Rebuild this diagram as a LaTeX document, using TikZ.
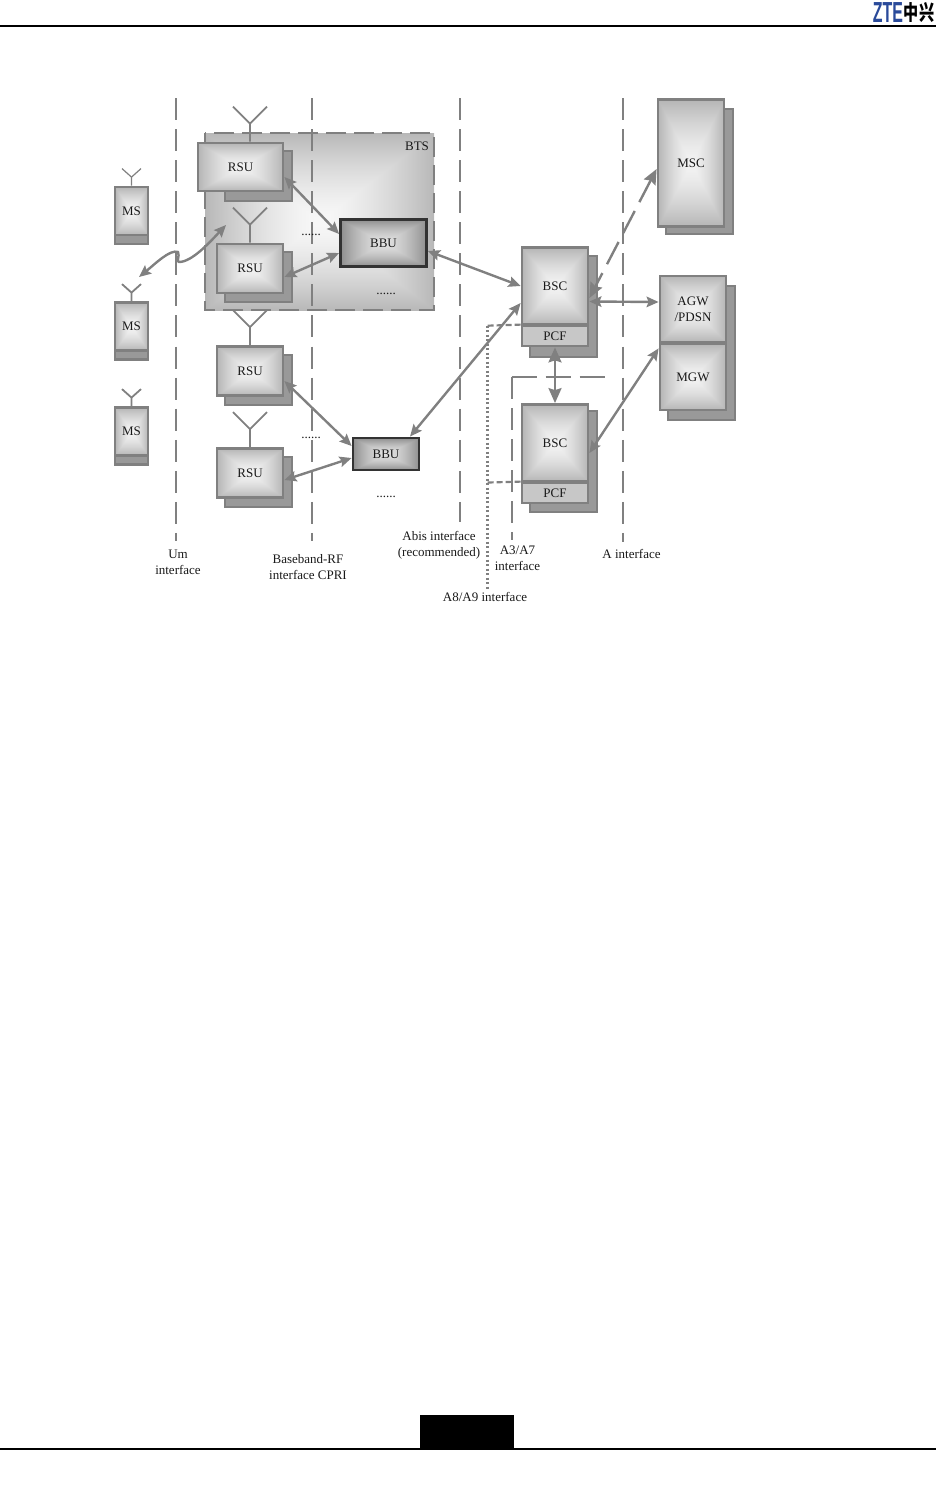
\documentclass[tikz,border=0pt]{standalone}
\usepackage{fontspec}
\setmainfont{Liberation Serif}
\newfontfamily\logofont{Liberation Sans}
\newfontfamily\cjklogo{Noto Sans CJK SC}
\usetikzlibrary{arrows.meta}
\definecolor{linegray}{HTML}{808080}
\definecolor{backgray}{HTML}{999999}
\definecolor{logoblue}{HTML}{2A4A9A}
% light centre, darker rim, mitred like a picture frame
\newcommand{\declareframeshade}[3]{%
  \pgfdeclarefunctionalshading{#1}{\pgfpoint{-50bp}{-50bp}}{\pgfpoint{50bp}{50bp}}{}{%
    abs exch abs 2 copy gt {pop} {exch pop} ifelse 25 div dup sqrt mul #3 mul #2 exch sub dup dup}}
\declareframeshade{rsushade}{0.95}{0.24}
\declareframeshade{bbushade}{0.88}{0.32}
\declareframeshade{btsshade}{0.97}{0.25}
\begin{document}
\begin{tikzpicture}[
    x=1pt, y=-1pt,
    every node/.style={font=\fontsize{13}{16}\selectfont, text=black!90, align=center, inner sep=0pt},
    backbox/.style={draw=linegray, line width=2pt, fill=backgray},
    unitbox/.style={draw=linegray, line width=2.8pt, shading=rsushade},
    bandbox/.style={draw=black!80, line width=2.8pt, shading=bbushade},
    footbox/.style={draw=linegray, line width=2.8pt, fill=backgray},
    pcfbox/.style={draw=linegray, line width=2.8pt, fill=black!22},
    ifline/.style={draw=linegray, line width=2pt, dash pattern=on 22pt off 9.07pt},
    dotline/.style={draw=linegray, line width=2.6pt, dash pattern=on 2pt off 2.5pt},
    shortdash/.style={draw=linegray, line width=2.2pt, dash pattern=on 6pt off 3pt},
    aerial/.style={draw=linegray, line width=1.8pt},
    link/.style={draw=linegray, line width=2.4pt, {Stealth[length=12pt,width=10.5pt,inset=2pt]}-{Stealth[length=12pt,width=10.5pt,inset=2pt]}},
    biglink/.style={link, {Stealth[length=15pt,width=13pt,inset=2pt]}-{Stealth[length=15pt,width=13pt,inset=2pt]}}
]
\useasboundingbox (0,0) rectangle (936,1499);
% Page furniture
\draw[black, line width=2pt] (0,26) -- (936,26);
\draw[black, line width=2pt] (0,1449) -- (936,1449);
\fill[black] (420,1415) rectangle (514,1449);
\node[font=\logofont\bfseries\fontsize{29}{29}\selectfont, text=logoblue, xscale=0.55] (logoa) at (888,12.5) {ZTE};
\node[font=\cjklogo\bfseries\fontsize{21}{21}\selectfont, text=black, xscale=0.72] (logob) at (919,12.5) {中兴};

% BTS frame
\node[minimum width=229pt, minimum height=177pt, shading=btsshade] (bts) at (319.5,221.5) {};
\draw[ifline, line width=2.5pt, dash pattern=on 20pt off 8pt] (bts.north west) rectangle (bts.south east);
\node (btslabel) at (417,146) {BTS};

% Interface lines
\draw[ifline] (176,98) -- (176,541);
\draw[ifline] (311.5,98) -- (311.5,541);
\draw[ifline] (460,98) -- (460,522);
\draw[ifline] (623,98) -- (623,542);
\draw[ifline, dash pattern=on 25pt off 9pt] (511.5,377) -- (607,377);
\draw[ifline] (511.5,377) -- (511.5,540);

% Mobile stations
\foreach \name/\ypos/\topw in {msA/215.5/1.2,msB/331/1.8,msC/436/1.8}{
  \node[footbox, minimum width=33pt, minimum height=57pt] (\name back) at (131.5,\ypos) {};
  \node[unitbox, minimum width=33pt, minimum height=48pt, yshift=4.5pt] (\name) at (131.5,\ypos) {MS};
  \draw[aerial, line width=\topw pt] (\name.north) -- ++(0,-8.5) coordinate (\name fork) -- ++(-9.5,-8.5);
  \draw[aerial, line width=\topw pt] (\name fork) -- ++(9.5,-8.5);
}

% RSUs
\node[backbox, minimum width=67pt, minimum height=50pt] (rsuAback) at (258.5,176) {};
\node[unitbox, minimum width=85pt, minimum height=48pt] (rsuA) at (240.5,167) {RSU};
\node[backbox, minimum width=67pt, minimum height=50pt] (rsuBback) at (258.5,277) {};
\node[unitbox, minimum width=66pt, minimum height=49pt] (rsuB) at (250,268.5) {RSU};
\node[backbox, minimum width=67pt, minimum height=50pt] (rsuCback) at (258.5,379.5) {};
\node[unitbox, minimum width=66pt, minimum height=49pt] (rsuC) at (250,371) {RSU};
\node[backbox, minimum width=67pt, minimum height=50pt] (rsuDback) at (258.5,481.5) {};
\node[unitbox, minimum width=66pt, minimum height=49pt] (rsuD) at (250,473) {RSU};
\foreach \name/\xpos in {rsuA/250,rsuB/250,rsuC/250,rsuD/250}{
  \coordinate (\name base) at (\name.north -| \xpos,0);
  \draw[aerial] (\name base) -- ++(0,-18) coordinate (\name fork) -- ++(-17,-17);
  \draw[aerial] (\name fork) -- ++(17,-17);
}

% BBUs
\node[bandbox, minimum width=86pt, minimum height=47pt] (bbuA) at (383.5,243) {BBU};
\node[bandbox, minimum width=66pt, minimum height=32pt] (bbuB) at (386,454) {BBU};
\node (dotsA) at (311,235) {......};
\node (dotsB) at (386,294) {......};
\node (dotsC) at (311,438) {......};
\node (dotsD) at (386,497) {......};

% BSC/PCF pairs
\node[backbox, minimum width=67pt, minimum height=101pt] (bscAback) at (563.5,306.5) {};
\node[unitbox, minimum width=66pt, minimum height=77pt] (bscA) at (555,286) {BSC};
\node[pcfbox, minimum width=66pt, minimum height=20pt] (pcfA) at (555,336) {PCF};
\node[backbox, minimum width=67pt, minimum height=101pt] (bscBback) at (563.5,461) {};
\node[unitbox, minimum width=66pt, minimum height=77pt] (bscB) at (555,443) {BSC};
\node[pcfbox, minimum width=66pt, minimum height=20pt] (pcfB) at (555,493) {PCF};

% Core side
\node[backbox, minimum width=67pt, minimum height=125pt] (mscback) at (699.5,171.5) {};
\node[unitbox, minimum width=66pt, minimum height=127pt] (msc) at (691,163) {MSC};
\node[backbox, minimum width=67pt, minimum height=134pt] (agwback) at (701.5,353) {};
\node[unitbox, minimum width=66pt, minimum height=66pt] (agw) at (693,309) {AGW\\/PDSN};
\node[unitbox, minimum width=66pt, minimum height=66pt] (mgw) at (693,377) {MGW};

% Arrows
\coordinate (mslink) at (139,277);
\coordinate (btslink) at (226,225);
\draw[link] (mslink) .. controls (155,264) and (170,249) .. (178,252) .. controls (180,256) and (176,262) .. (179,262) .. controls (192,262) and (210,242) .. (btslink);
\draw[link] ([yshift=-10pt]rsuA.east) -- ([yshift=9pt]bbuA.west);
\draw[link] ([yshift=-8.5pt]rsuB.east) -- ([yshift=-10pt]bbuA.west);
\draw[link] ([yshift=-10pt]rsuC.east) -- ([yshift=8pt]bbuB.west);
\draw[link] ([yshift=-7pt]rsuD.east) -- ([yshift=-4pt]bbuB.west);
\draw[link] ([yshift=-8pt]bbuA.east) -- (bscA.west);
\draw[link] ([xshift=24pt]bbuB.north) -- ([yshift=-17pt]bscA.west);
\draw[biglink, dash pattern=on 25pt off 10pt] ([yshift=-6pt]msc.west) -- ([yshift=-12pt]bscA.east);
\draw[link] ([yshift=-15.5pt]bscA.east) -- ([yshift=7pt]agw.west);
\draw[biglink] (pcfA.south) -- (bscB.north);
\draw[link] ([yshift=-10pt]bscB.east) -- ([yshift=-5pt]agw.south west);

% A8/A9 tie
\coordinate (tieA) at (487.7,325.7);
\coordinate (tieB) at (487.7,482.5);
\coordinate (tieEnd) at (487.7,590);
\draw[shortdash] (tieA) -- (pcfA.north west);
\draw[shortdash] (tieB) -- (pcfB.north west);
\draw[dotline] (tieA) -- (tieEnd);

% Labels
\node (um) at (178,562) {Um\\interface};
\node (cpri) at (308,567) {Baseband-RF\\interface CPRI};
\node (abis) at (439,545) {Abis interface\\(recommended)};
\node (a3a7) at (517.5,558) {A3/A7\\interface};
\node (ainf) at (631.5,554) {A interface};
\node (a8a9) at (485,596.5) {A8/A9 interface};
\end{tikzpicture}
\end{document}
